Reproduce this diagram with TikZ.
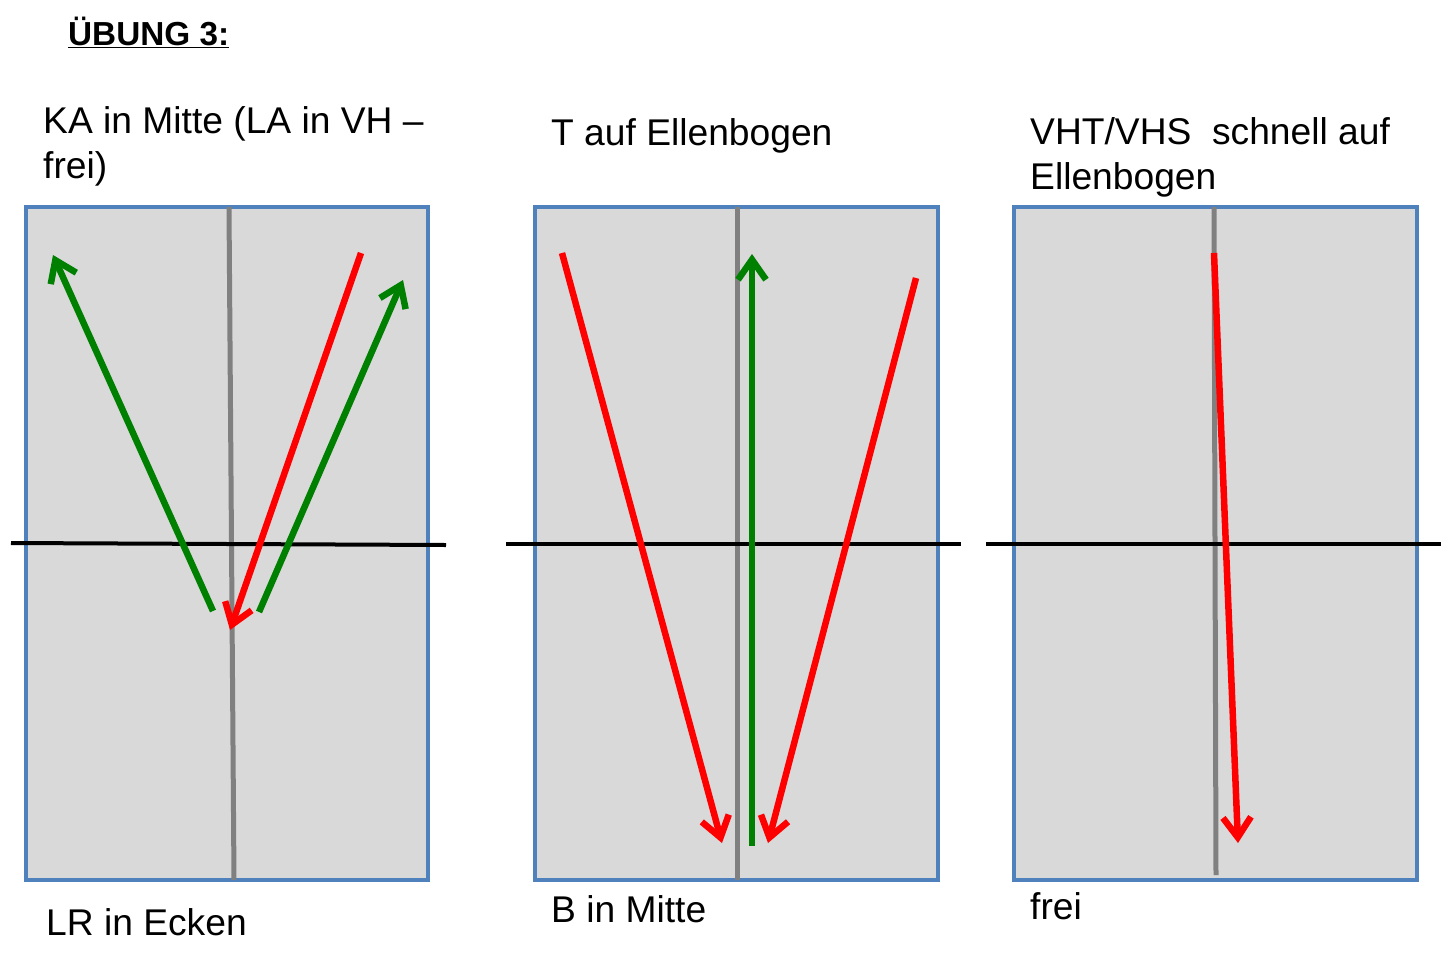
\documentclass[tikz,border=0pt]{standalone}
\usepackage{fontspec}
\setmainfont{Liberation Sans}
\usetikzlibrary{arrows.meta}
\definecolor{panelfill}{HTML}{D9D9D9}
\definecolor{panelblue}{HTML}{4F81BD}
\definecolor{midgray}{HTML}{808080}
\definecolor{arrgreen}{HTML}{008000}
\definecolor{arrred}{HTML}{FF0000}
\tikzset{
  panel/.style={draw=panelblue, fill=panelfill, line width=3.5pt},
  axisline/.style={draw=midgray, line width=5pt},
  crossline/.style={draw=black, line width=4pt},
  movearrow/.style={line width=6.5pt, -{Straight Barb[length=20pt,width=28pt]}},
  greenmove/.style={movearrow, draw=arrgreen},
  redmove/.style={movearrow, draw=arrred},
  lbl/.style={inner sep=0pt, anchor=base west, align=left, font=\fontsize{37.2}{45}\selectfont},
}
\begin{document}
\begin{tikzpicture}[x=1pt,y=-1pt]
\useasboundingbox (0,0) rectangle (1454,967);
% title
\node[inner sep=0pt, anchor=base west, font=\bfseries\fontsize{33.3}{40}\selectfont] (title) at (68,45) {\underline{ÜBUNG 3:}};
% ---------- panel 1 ----------
\draw[panel] (26,207) rectangle (428,880);
\coordinate (a1t) at (229,207); \coordinate (a1b) at (234,880);
\draw[axisline] (a1t) -- (a1b);
\coordinate (h1l) at (11,543); \coordinate (h1r) at (446,545);
\draw[crossline] (h1l) -- (h1r);
\coordinate (g1s) at (213,611); \coordinate (g1e) at (53,255);
\coordinate (r1s) at (361,253); \coordinate (r1e) at (230,630);
\coordinate (g2s) at (259,612); \coordinate (g2e) at (403,280);
\draw[greenmove] (g1s) -- (g1e);
\draw[redmove] (r1s) -- (r1e);
\draw[greenmove] (g2s) -- (g2e);
\node[lbl] (t1) at (43,178) {KA in Mitte (LA in VH –\\frei)};
\node[lbl] (b1) at (46,935) {LR in Ecken};
% ---------- panel 2 ----------
\draw[panel] (535,207) rectangle (938,880);
\coordinate (a2t) at (737,207); \coordinate (a2b) at (737,880);
\draw[axisline] (a2t) -- (a2b);
\coordinate (h2l) at (506,544); \coordinate (h2r) at (961,544);
\draw[crossline] (h2l) -- (h2r);
\coordinate (r2s) at (562,253); \coordinate (r2e) at (722,843);
\coordinate (g3s) at (752,846); \coordinate (g3e) at (752,254);
\coordinate (r3s) at (916,278); \coordinate (r3e) at (768,843);
\draw[redmove] (r2s) -- (r2e);
\draw[greenmove] (g3s) -- (g3e);
\draw[redmove] (r3s) -- (r3e);
\node[lbl] (t2) at (551,145) {T auf Ellenbogen};
\node[lbl] (b2) at (551,922) {B in Mitte};
% ---------- panel 3 ----------
\draw[panel] (1014,207) rectangle (1417,880);
\coordinate (a3t) at (1214,207); \coordinate (a3b) at (1216,875);
\draw[axisline] (a3t) -- (a3b);
\coordinate (h3l) at (986,544); \coordinate (h3r) at (1441,544);
\draw[crossline] (h3l) -- (h3r);
\coordinate (r4s) at (1214,253); \coordinate (r4e) at (1238,843);
\draw[redmove] (r4s) -- (r4e);
\node[lbl] (t3) at (1030,189) {VHT/VHS\ \ schnell auf\\Ellenbogen};
\node[lbl] (b3) at (1030,919) {frei};
\end{tikzpicture}
\end{document}
